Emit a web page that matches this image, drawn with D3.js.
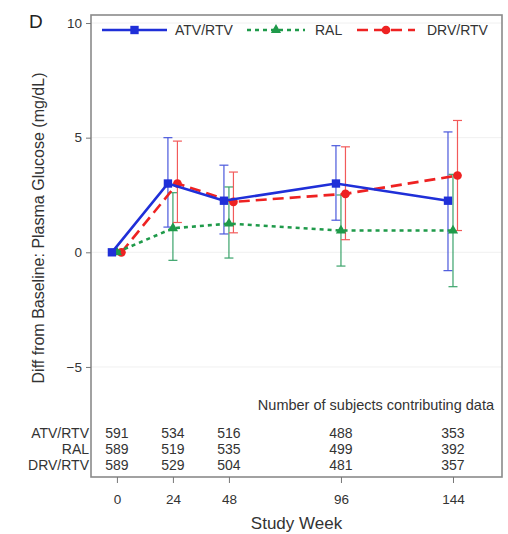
<!DOCTYPE html>
<html>
<head>
<meta charset="utf-8">
<script src="https://cdn.jsdelivr.net/npm/d3@7"></script>
<style>
  body { margin: 0; background: #fff; }
  svg { font-family: "Liberation Sans", Arial, sans-serif; }
</style>
</head>
<body>
<svg id="chart" width="508" height="534"></svg>
<script>
// Study weeks and treatment arms
const weeks = [0, 24, 48, 96, 144];
const arms = ["ATV/RTV", "RAL", "DRV/RTV"];

// Mean change from baseline in plasma glucose (mg/dL) with 95% CI
const atvMean = [0, 3.0, 2.25, 3.0, 2.25];
const atvLow  = [null, 1.1, 0.8, 1.4, -0.8];
const atvHigh = [null, 5.0, 3.8, 4.65, 5.25];

const ralMean = [0, 1.05, 1.25, 0.95, 0.95];
const ralLow  = [null, -0.35, -0.25, -0.6, -1.5];
const ralHigh = [null, 2.6, 2.85, 2.5, 3.4];

const drvMean = [0, 3.0, 2.2, 2.55, 3.35];
const drvLow  = [null, 1.3, 0.85, 0.55, 0.95];
const drvHigh = [null, 4.85, 3.5, 4.6, 5.75];

// Number of subjects contributing data at each week
const atvN = [591, 534, 516, 488, 353];
const ralN = [589, 519, 535, 499, 392];
const drvN = [589, 529, 504, 481, 357];

const yTicks = [-5, 0, 5, 10];

const svg = d3.select("#chart");
const frame = { left: 91, right: 502, top: 15, bottom: 477 };

const x = d3.scaleLinear().domain([-11.1, 165]).range([frame.left, frame.right]);
const y = d3.scaleLinear().domain([-9.8, 10.35]).range([frame.bottom, frame.top]);

// faint reference lines
svg.append("g").selectAll("line").data(yTicks).join("line")
  .attr("x1", frame.left).attr("x2", frame.right)
  .attr("y1", d => y(d)).attr("y2", d => y(d))
  .attr("stroke", "#f0f0f0").attr("stroke-width", 1);

// plot frame
svg.append("rect")
  .attr("x", frame.left).attr("y", frame.top)
  .attr("width", frame.right - frame.left).attr("height", frame.bottom - frame.top)
  .attr("fill", "none").attr("stroke", "#8a8a8a").attr("stroke-width", 1.6);

// y axis
const yAxis = svg.append("g")
  .attr("transform", `translate(${frame.left},0)`)
  .call(d3.axisLeft(y).tickValues(yTicks).tickSize(5).tickPadding(4).tickFormat(d => d < 0 ? "\u2212" + Math.abs(d) : d));
yAxis.select(".domain").remove();
yAxis.selectAll("line").attr("stroke", "#777");
yAxis.selectAll("text").attr("font-size", 13.5).attr("fill", "#333")
  .attr("font-family", "\"Liberation Sans\", Arial, sans-serif");

// x axis below frame
const xAxis = svg.append("g")
  .attr("transform", `translate(0,${frame.bottom})`)
  .call(d3.axisBottom(x).tickValues(weeks).tickSize(6).tickPadding(11));
xAxis.select(".domain").remove();
xAxis.selectAll("line").attr("stroke", "#777");
xAxis.selectAll("text").attr("font-size", 13.5).attr("fill", "#333")
  .attr("font-family", "\"Liberation Sans\", Arial, sans-serif");

// axis titles
svg.append("text")
  .attr("x", (frame.left + frame.right) / 2).attr("y", 529)
  .attr("text-anchor", "middle").attr("font-size", 17).attr("fill", "#333")
  .text("Study Week");
svg.append("text")
  .attr("transform", `translate(44,${228}) rotate(-90)`)
  .attr("text-anchor", "middle").attr("font-size", 16).attr("fill", "#333")
  .text("Diff from Baseline: Plasma Glucose (mg/dL)");
svg.append("text")
  .attr("x", 29).attr("y", 28)
  .attr("font-size", 19).attr("fill", "#222")
  .text("D");

// series definitions
const series = [
  { name: "ATV/RTV", mean: atvMean, low: atvLow, high: atvHigh, color: "#1f2fd8", bar: "#4a58dc", dash: null, shift: -5, marker: "square" },
  { name: "RAL", mean: ralMean, low: ralLow, high: ralHigh, color: "#1f9a4a", bar: "#3aa36a", dash: "4,4", shift: 0, marker: "triangle" },
  { name: "DRV/RTV", mean: drvMean, low: drvLow, high: drvHigh, color: "#ee2222", bar: "#f25a5a", dash: "11,6", shift: 4.5, marker: "circle" }
];

const symbolFor = m => m === "square" ? d3.symbolSquare : m === "triangle" ? d3.symbolTriangle : d3.symbolCircle;
const sizeFor = m => m === "square" ? 70 : m === "triangle" ? 45 : 60;

// error bars first
series.forEach(s => {
  const g = svg.append("g");
  const pts = weeks.map((w, i) => ({ w, lo: s.low[i], hi: s.high[i] })).filter(d => d.lo !== null);
  g.selectAll("line.v").data(pts).join("line")
    .attr("x1", d => x(d.w) + s.shift).attr("x2", d => x(d.w) + s.shift)
    .attr("y1", d => y(d.lo)).attr("y2", d => y(d.hi))
    .attr("stroke", s.bar).attr("stroke-width", 1.2);
  ["lo", "hi"].forEach(k => {
    g.selectAll("line.c" + k).data(pts).join("line")
      .attr("x1", d => x(d.w) + s.shift - 4.5).attr("x2", d => x(d.w) + s.shift + 4.5)
      .attr("y1", d => y(d[k])).attr("y2", d => y(d[k]))
      .attr("stroke", s.bar).attr("stroke-width", 1.2);
  });
});

// lines and markers
series.slice().reverse().forEach(s => {
  const data = weeks.map((w, i) => ({ w, v: s.mean[i] }));
  svg.append("path").datum(data)
    .attr("fill", "none").attr("stroke", s.color).attr("stroke-width", 2.6)
    .attr("stroke-dasharray", s.dash)
    .attr("d", d3.line().x(d => x(d.w) + s.shift).y(d => y(d.v)));
  svg.append("g").selectAll("path").data(data).join("path")
    .attr("transform", d => `translate(${x(d.w) + s.shift},${y(d.v)})`)
    .attr("d", d3.symbol().type(symbolFor(s.marker)).size(sizeFor(s.marker)))
    .attr("fill", s.color);
});

// legend
const legendPos = [{ x0: 102, x1: 167, tx: 175 }, { x0: 247, x1: 305, tx: 315 }, { x0: 357, x1: 415, tx: 427 }];
series.forEach((s, i) => {
  const p = legendPos[i];
  const ly = 30;
  svg.append("line").attr("x1", p.x0).attr("x2", p.x1).attr("y1", ly).attr("y2", ly)
    .attr("stroke", s.color).attr("stroke-width", 2.4).attr("stroke-dasharray", s.dash);
  svg.append("path")
    .attr("transform", `translate(${(p.x0 + p.x1) / 2},${ly})`)
    .attr("d", d3.symbol().type(symbolFor(s.marker)).size(sizeFor(s.marker)))
    .attr("fill", s.color);
  svg.append("text").attr("x", p.tx).attr("y", ly + 5)
    .attr("font-size", 14).attr("fill", "#333").text(s.name);
});

// subject counts table
svg.append("text")
  .attr("x", 494).attr("y", 410).attr("text-anchor", "end")
  .attr("font-size", 14.5).attr("fill", "#333")
  .text("Number of subjects contributing data");

const counts = [atvN, ralN, drvN];
const rowY = [438, 454, 470];
arms.forEach((a, r) => {
  svg.append("text").attr("x", 89).attr("y", rowY[r]).attr("text-anchor", "end")
    .attr("font-size", 14).attr("fill", "#333").text(a);
  svg.append("g").selectAll("text").data(counts[r]).join("text")
    .attr("x", (d, i) => x(weeks[i])).attr("y", rowY[r])
    .attr("text-anchor", "middle").attr("font-size", 14).attr("fill", "#333")
    .text(d => d);
});
</script>
</body>
</html>
